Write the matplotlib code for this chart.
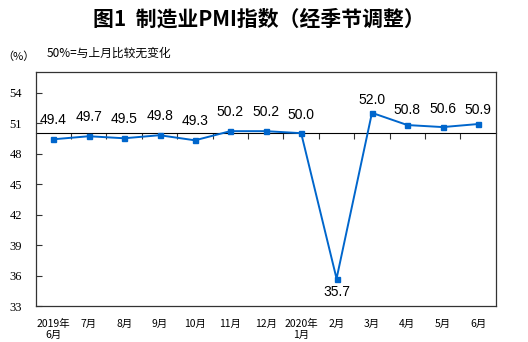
import matplotlib
matplotlib.use("Agg")
import matplotlib.pyplot as plt

plt.rcParams['font.family'] = ['Noto Sans CJK SC', 'DejaVu Sans']

# 2019年6月 - 2020年6月 制造业PMI（经季节调整）
months = ['2019年\n6月', '7月', '8月', '9月', '10月', '11月', '12月',
          '2020年\n1月', '2月', '3月', '4月', '5月', '6月']
pmi = [49.4, 49.7, 49.5, 49.8, 49.3, 50.2, 50.2, 50.0, 35.7, 52.0, 50.8, 50.6, 50.9]
y_ticks = [33, 36, 39, 42, 45, 48, 51, 54]

# 数据标签的上下偏移（单位：磅）
label_dy = [14, 14, 14, 14, 14, 14, 14, 13, -9.5, 9.5, 10.5, 13, 10]

y_lo, y_hi = 33, 56
line_color = '#0066cc'
frame_color = '#333333'

fig = plt.figure(figsize=(5.28, 3.42), dpi=100)
ax = fig.add_axes([0.0676, 0.105, 0.8715, 0.684])

x = list(range(len(pmi)))
ax.plot(x, pmi, color=line_color, lw=1.4, marker='s', markersize=3.6, zorder=3)

for i, v in enumerate(pmi):
    ax.annotate(f'{v:.1f}', (i, v), xytext=(0, label_dy[i]), textcoords='offset points',
                ha='center', va='center', fontsize=10, family='Liberation Sans')

ax.set_xlim(-0.5, len(pmi) - 0.5)
ax.set_ylim(y_lo, y_hi)

ax.set_yticks(y_ticks)
ax.set_yticklabels([str(t) for t in y_ticks])
for lbl in ax.get_yticklabels():
    lbl.set_fontfamily(['Liberation Serif'])
    lbl.set_fontsize(9)
ax.tick_params(axis='y', direction='in', length=4, width=0.8, color=frame_color, pad=10)

ax.set_xticks(x)
ax.set_xticklabels(months, fontsize=7.5, linespacing=1.15)
ax.tick_params(axis='x', length=0, pad=9)

for s in ax.spines.values():
    s.set_color(frame_color)
    s.set_linewidth(0.9)

# 50% 分界线，刻度在月份之间
sec = ax.secondary_xaxis((50 - y_lo) / (y_hi - y_lo))
sec.set_xticks([i + 0.5 for i in range(len(pmi) - 1)])
sec.set_xticklabels([])
sec.tick_params(direction='in', length=4, width=0.8, color=frame_color)
sec.spines['bottom'].set_color(frame_color)
sec.spines['bottom'].set_linewidth(0.9)

fig.text(0.49, 0.945, '图1  制造业PMI指数（经季节调整）', ha='center', va='center',
         fontsize=15, fontweight='bold')
fig.text(0.004, 0.835, '（%）', ha='left', va='center', fontsize=8)
fig.text(0.089, 0.845, '50%=与上月比较无变化', ha='left', va='center', fontsize=8.5)

fig.savefig('out.png', dpi=100)
